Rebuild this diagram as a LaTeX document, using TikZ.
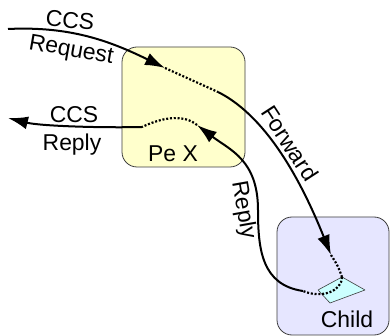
\documentclass[tikz,border=0pt]{standalone}
\usepackage{fontspec}
\setmainfont{Liberation Sans}
\usepackage{tikz}
\usetikzlibrary{arrows.meta,shapes}
\definecolor{paleyellow}{RGB}{255,255,204}
\definecolor{palelilac}{RGB}{230,230,255}
\definecolor{palecyan}{RGB}{204,255,255}
\definecolor{edgegray}{RGB}{60,60,60}

\begin{document}
\begin{tikzpicture}[>={Latex[length=20bp,width=13bp]},line join=bevel,
  font=\fontsize{23}{25}\selectfont,
  pe/.style={draw=edgegray,line width=0.8bp,rounded corners=15bp,inner sep=0pt},
  msg/.style={line width=2bp},
  inside/.style={line width=2.2bp,dash pattern=on 2bp off 1.8bp}]
\useasboundingbox (0bp,0bp) rectangle (390bp,336bp);
%%
\node (PeX) at (183.5bp,229bp) [pe,fill=paleyellow,minimum width=123bp,minimum height=120bp] {};
  \node (Child) at (333bp,60bp) [pe,fill=palelilac,minimum width=112bp,minimum height=118bp] {};
  \coordinate (seedW) at (318bp,46bp);
  \coordinate (seedN) at (342bp,59bp);
  \coordinate (seedE) at (365bp,46bp);
  \coordinate (seedS) at (330bp,33bp);
  \draw [draw=edgegray,line width=0.6bp,fill=palecyan] (seedW) -- (seedN) -- (seedE) -- (seedS) -- cycle;
%
  \coordinate (ccsin) at (8bp,307bp);
  \coordinate (reqtip) at (165bp,268bp);
  \coordinate (fwdout) at (218bp,244bp);
  \coordinate (fwdtip) at (331bp,81bp);
  \coordinate (repout) at (303bp,45bp);
  \coordinate (repmid) at (258bp,126bp);
  \coordinate (reptip) at (197bp,211bp);
  \coordinate (ccsout) at (142bp,209bp);
  \coordinate (ccsend) at (8bp,218bp);
  \draw [msg,->] (ccsin) ..controls (70bp,310bp) and (110bp,295bp)  .. (reqtip);
  \draw [inside] (reqtip) -- (fwdout);
  \draw [msg,->] (fwdout) ..controls (270bp,218bp) and (305bp,146bp)  .. (fwdtip);
  \draw [inside] (fwdtip) ..controls (338bp,70bp)  .. (seedN);
  \draw [inside] (seedN) ..controls (342bp,45bp) and (322bp,37bp)  .. (repout);
  \draw [msg,->] (repout) ..controls (262bp,51bp) and (258bp,86bp)  .. (repmid)
    ..controls (258bp,176bp) and (230bp,186bp)  .. (reptip);
  \draw [inside] (reptip) ..controls (185bp,221bp) and (165bp,220bp)  .. (ccsout);
  \draw [msg,->] (ccsout) ..controls (100bp,208bp) and (40bp,210bp)  .. (ccsend);
%
  \node (ccsA) at (70bp,316bp) [rotate=-6] {CCS};
  \node (request) at (71bp,285bp) [rotate=-10] {Request};
  \node (ccsB) at (74bp,221bp) {CCS};
  \node (replyA) at (72bp,191bp) {Reply};
  \node (pexname) at (173bp,182bp) {Pe X};
  \node (forward) at (290bp,193bp) [rotate=-57] {Forward};
  \node (replyB) at (243bp,126bp) [rotate=-80] {Reply};
  \node (childname) at (347bp,17bp) {Child};
%
\end{tikzpicture}
\end{document}
